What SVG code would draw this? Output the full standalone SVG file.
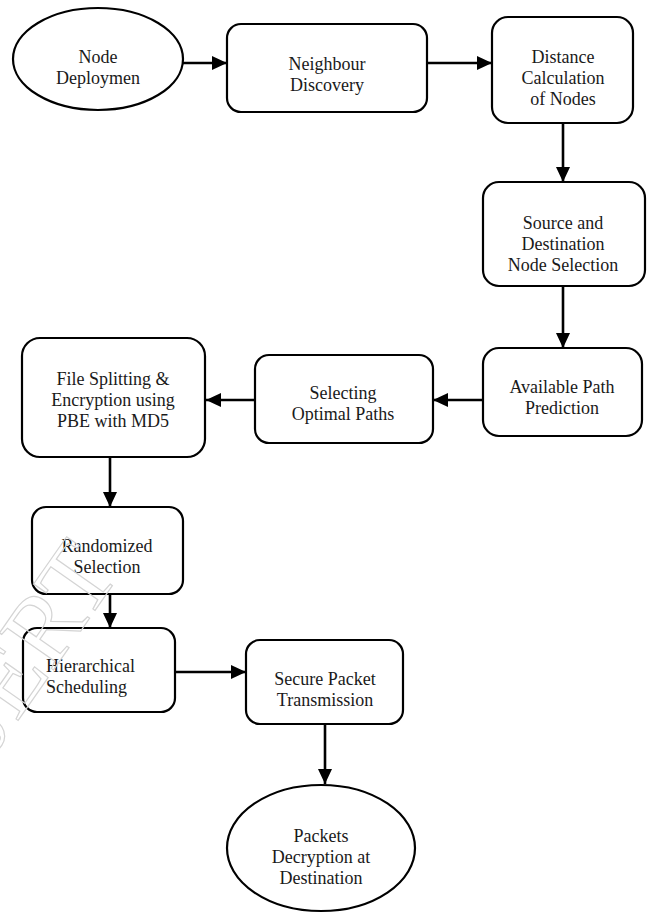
<svg xmlns="http://www.w3.org/2000/svg" width="653" height="913" viewBox="0 0 653 913">
<style>
.box{fill:#fff;stroke:#000;stroke-width:2.2}
.t{font-family:"Liberation Serif","Times New Roman",serif;font-size:18px;fill:#1a1a1a;text-anchor:middle}
.ts{font-family:"Liberation Serif","Times New Roman",serif;font-size:18px;fill:#1a1a1a;text-anchor:start}
.c{fill:none;stroke:#000;stroke-width:2.6;marker-end:url(#ah)}
.wm{font-family:"Liberation Serif","Times New Roman",serif;font-size:100px;fill:none;stroke:#d4d4d4;stroke-width:1.2}
</style>
<defs>
<marker id="ah" markerUnits="userSpaceOnUse" markerWidth="16" markerHeight="16" refX="15" refY="7" orient="auto">
<path d="M0,0 L15,7 L0,14 Z" fill="#000"/>
</marker>
</defs>
<rect width="653" height="913" fill="#fff"/>
<g id="connectors">
<line class="c" x1="183" y1="63" x2="227" y2="63"/>
<line class="c" x1="427" y1="63" x2="492" y2="63"/>
<line class="c" x1="563" y1="123" x2="563" y2="182"/>
<line class="c" x1="563" y1="286" x2="563" y2="348"/>
<line class="c" x1="483" y1="400" x2="433" y2="400"/>
<line class="c" x1="255" y1="400" x2="206" y2="400"/>
<line class="c" x1="110" y1="457" x2="110" y2="507"/>
<line class="c" x1="110" y1="594" x2="110" y2="628"/>
<line class="c" x1="175" y1="672" x2="246" y2="672"/>
<line class="c" x1="325" y1="724" x2="325" y2="784"/>
</g>
<g id="n1"><ellipse class="box" cx="98" cy="59" rx="85" ry="51"/>
<text class="t" x="98" y="63">Node</text><text class="t" x="98" y="84">Deploymen</text></g>
<g id="n2"><rect class="box" x="227" y="24" width="200" height="88" rx="14"/>
<text class="t" x="327" y="70">Neighbour</text><text class="t" x="327" y="91">Discovery</text></g>
<g id="n3"><rect class="box" x="492" y="17" width="141" height="106" rx="16"/>
<text class="t" x="563" y="63">Distance</text><text class="t" x="563" y="84">Calculation</text><text class="t" x="563" y="105">of Nodes</text></g>
<g id="n4"><rect class="box" x="483" y="182" width="162" height="104" rx="16"/>
<text class="t" x="563" y="229">Source and</text><text class="t" x="563" y="250">Destination</text><text class="t" x="563" y="271">Node Selection</text></g>
<g id="n5"><rect class="box" x="483" y="348" width="159" height="88" rx="16"/>
<text class="t" x="562" y="393">Available Path</text><text class="t" x="562" y="414">Prediction</text></g>
<g id="n6"><rect class="box" x="255" y="355" width="178" height="88" rx="14"/>
<text class="t" x="343" y="399">Selecting</text><text class="t" x="343" y="420">Optimal Paths</text></g>
<g id="n7"><rect class="box" x="22" y="338" width="183" height="119" rx="18"/>
<text class="t" x="113" y="385">File Splitting &amp;</text><text class="t" x="113" y="406">Encryption using</text><text class="t" x="113" y="427">PBE with MD5</text></g>
<g id="n8"><rect class="box" x="32" y="507" width="151" height="87" rx="14"/>
<text class="t" x="107" y="552">Randomized</text><text class="t" x="107" y="573">Selection</text></g>
<g id="n9"><rect class="box" x="23" y="628" width="152" height="84" rx="14"/>
<text class="ts" x="46" y="672">Hierarchical</text><text class="ts" x="46" y="693">Scheduling</text></g>
<g id="n10"><rect class="box" x="246" y="640" width="157" height="84" rx="14"/>
<text class="t" x="325" y="685">Secure Packet</text><text class="t" x="325" y="706">Transmission</text></g>
<g id="n11"><ellipse class="box" cx="321" cy="848" rx="94" ry="63"/>
<text class="t" x="321" y="842">Packets</text><text class="t" x="321" y="863">Decryption at</text><text class="t" x="321" y="884">Destination</text></g>
<text class="wm" transform="translate(-25,782) rotate(-55)">IJERT</text>
</svg>
